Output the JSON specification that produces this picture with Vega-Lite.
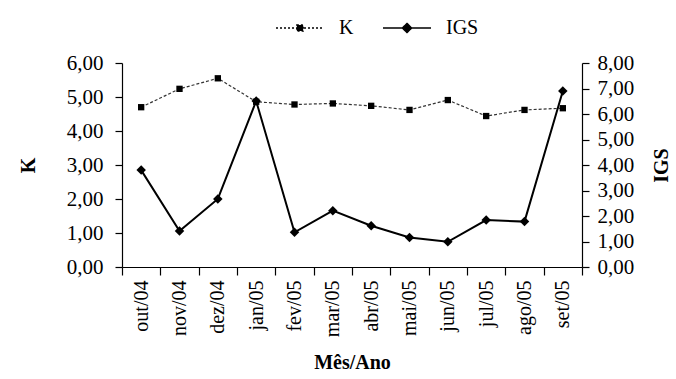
{
  "$schema": "https://vega.github.io/schema/vega-lite/v6.json",
  "autosize": "none",
  "width": 460,
  "height": 204,
  "padding": {"left": 122, "top": 63, "right": 94, "bottom": 112},
  "background": "white",
  "config": {
    "font": "Times New Roman",
    "view": {"stroke": null},
    "axis": {
      "grid": false,
      "domainColor": "black",
      "tickColor": "black",
      "labelColor": "black",
      "titleColor": "black",
      "labelFont": "Times New Roman",
      "titleFont": "Times New Roman",
      "labelFontSize": 21,
      "titleFontSize": 20,
      "titleFontWeight": "bold",
      "domainWidth": 1.2,
      "tickWidth": 1.2
    },
    "legend": {
      "labelFont": "Times New Roman",
      "labelFontSize": 20,
      "labelColor": "black"
    }
  },
  "data": {
    "values": [
      {"mes": "out/04", "serie": "K", "valor": 4.70},
      {"mes": "nov/04", "serie": "K", "valor": 5.24},
      {"mes": "dez/04", "serie": "K", "valor": 5.55},
      {"mes": "jan/05", "serie": "K", "valor": 4.86},
      {"mes": "fev/05", "serie": "K", "valor": 4.78},
      {"mes": "mar/05", "serie": "K", "valor": 4.81},
      {"mes": "abr/05", "serie": "K", "valor": 4.74},
      {"mes": "mai/05", "serie": "K", "valor": 4.62},
      {"mes": "jun/05", "serie": "K", "valor": 4.91},
      {"mes": "jul/05", "serie": "K", "valor": 4.44},
      {"mes": "ago/05", "serie": "K", "valor": 4.62},
      {"mes": "set/05", "serie": "K", "valor": 4.67},
      {"mes": "out/04", "serie": "IGS", "valor": 3.80},
      {"mes": "nov/04", "serie": "IGS", "valor": 1.41},
      {"mes": "dez/04", "serie": "IGS", "valor": 2.67},
      {"mes": "jan/05", "serie": "IGS", "valor": 6.51},
      {"mes": "fev/05", "serie": "IGS", "valor": 1.36},
      {"mes": "mar/05", "serie": "IGS", "valor": 2.21},
      {"mes": "abr/05", "serie": "IGS", "valor": 1.62},
      {"mes": "mai/05", "serie": "IGS", "valor": 1.16},
      {"mes": "jun/05", "serie": "IGS", "valor": 0.99},
      {"mes": "jul/05", "serie": "IGS", "valor": 1.84},
      {"mes": "ago/05", "serie": "IGS", "valor": 1.78},
      {"mes": "set/05", "serie": "IGS", "valor": 6.90}
    ]
  },
  "encoding": {
    "x": {
      "field": "mes",
      "type": "ordinal",
      "sort": null,
      "scale": {"paddingInner": 0, "paddingOuter": 0},
      "axis": {
        "title": "Mês/Ano",
        "labelAngle": -90,
        "labelFontSize": 20,
        "tickBand": "extent",
        "tickSize": 8,
        "labelPadding": 5,
        "titlePadding": 16
      }
    }
  },
  "layer": [
    {
      "transform": [{"filter": "datum.serie == 'K'"}],
      "encoding": {
        "y": {
          "field": "valor",
          "type": "quantitative",
          "scale": {"domain": [0, 6], "nice": false},
          "axis": {
            "title": "K",
            "values": [0, 1, 2, 3, 4, 5, 6],
            "labelExpr": "replace(format(datum.value, '.2f'), '.', ',')",
            "tickSize": 7,
            "labelPadding": 12,
            "titlePadding": 28,
            "titleAngle": -90
          }
        }
      },
      "layer": [
        {
          "mark": {"type": "line", "color": "#333333", "strokeWidth": 1.2, "strokeDash": [3, 2]}
        },
        {
          "mark": {"type": "point", "shape": "square", "filled": true, "color": "black", "size": 40, "opacity": 1}
        },
        {
          "transform": [{"filter": "datum.serie == 'nenhum'"}],
          "mark": {"type": "point", "filled": true, "fill": "black", "stroke": "black", "strokeWidth": 1.5, "opacity": 1},
          "encoding": {
            "shape": {
              "field": "serie",
              "type": "nominal",
              "title": null,
              "scale": {
                "domain": ["K", "IGS"],
                "range": [
                  "M-1,0L1,0M-0.13,-0.13L0.13,-0.13L0.13,0.13L-0.13,0.13Z",
                  "M-1,0L1,0M0,-0.19L0.19,0L0,0.19L-0.19,0Z"
                ]
              },
              "legend": {
                "title": null,
                "orient": "none",
                "direction": "horizontal",
                "legendX": 153,
                "legendY": -60,
                "padding": 0,
                "symbolSize": 2304,
                "labelOffset": 14,
                "columnPadding": 26,
                "encode": {
                  "symbols": {
                    "update": {
                      "stroke": {"value": "black"},
                      "fill": {"value": "black"},
                      "strokeWidth": [{"test": "datum.value == 'K'", "value": 1.2}, {"value": 2}],
                      "opacity": {"value": 1}
                    }
                  }
                }
              }
            },
            "strokeDash": {
              "field": "serie",
              "type": "nominal",
              "title": null,
              "scale": {"domain": ["K", "IGS"], "range": [[2, 2], [1, 0]]}
            }
          }
        }
      ]
    },
    {
      "transform": [{"filter": "datum.serie == 'IGS'"}],
      "encoding": {
        "y": {
          "field": "valor",
          "type": "quantitative",
          "scale": {"domain": [0, 8], "nice": false},
          "axis": {
            "title": "IGS",
            "orient": "right",
            "values": [0, 1, 2, 3, 4, 5, 6, 7, 8],
            "labelExpr": "replace(format(datum.value, '.2f'), '.', ',')",
            "tickSize": 7,
            "labelPadding": 8,
            "titlePadding": 38,
            "titleAngle": -90
          }
        }
      },
      "layer": [
        {
          "mark": {"type": "line", "color": "black", "strokeWidth": 2}
        },
        {
          "mark": {"type": "point", "shape": "diamond", "filled": true, "color": "black", "size": 90, "opacity": 1}
        }
      ]
    }
  ],
  "resolve": {"scale": {"y": "independent"}}
}
